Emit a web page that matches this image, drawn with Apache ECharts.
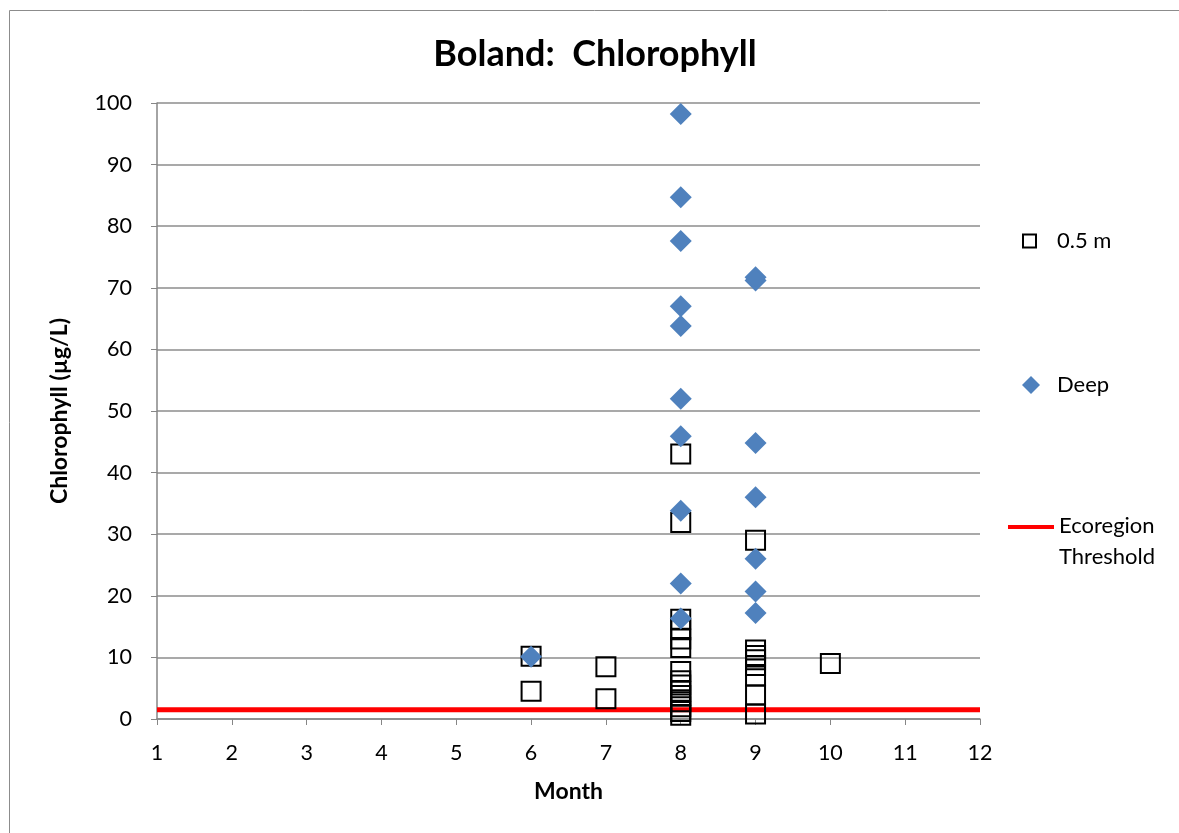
<!DOCTYPE html>
<html><head><meta charset="utf-8">
<script src="https://cdn.jsdelivr.net/npm/echarts@6/dist/echarts.min.js"></script>
<style>html,body{margin:0;padding:0;background:#fff}#c{width:1179px;height:833px}</style>
</head><body><div id="c"></div>
<script>
const titleText = 'Boland:  Chlorophyll';
const xTicks = [1,2,3,4,5,6,7,8,9,10,11,12];
const yTicks = [0,10,20,30,40,50,60,70,80,90,100];
const surfaceMonths = [6,6,7,7,8,8,8,8,8,8,8,8,8,8,8,8,8,8,8,9,9,9,9,9,9,9,9,10];
const surfaceValues = [10.2,4.5,8.5,3.3,43,31.9,16.2,14.5,13.0,11.6,7.7,6.2,5.5,4.5,3.8,2.8,2.0,1.2,0.6,29,11.2,10.3,9.6,8.7,7.0,3.9,0.8,9.0];
const deepMonths = [6,8,8,8,8,8,8,8,8,8,8,9,9,9,9,9,9,9];
const deepValues = [10.1,98.2,84.7,77.6,67.0,63.8,52.0,45.9,33.8,22.0,16.3,71.7,71.2,44.8,36.0,26.0,20.7,17.2];
const thresholdMonths = [1,12];
const thresholdValues = [1.5,1.5];

const F = 'Lato, "Open Sans", sans-serif';
const chart = echarts.init(document.getElementById('c'));
chart.setOption({
  animation:false,
  title:{text:titleText,left:590,textAlign:'center',top:31,textStyle:{fontFamily:F,fontSize:36,fontWeight:'bold',color:'#000'}},
  graphic:[{type:'rect',shape:{x:9.5,y:10.5,width:1300,height:1000},style:{fill:'none',stroke:'#8c8c8c',lineWidth:1}}],
  grid:{left:157,right:199,top:103,bottom:114},
  xAxis:{type:'value',min:1,max:12,interval:1,name:'Month',nameLocation:'middle',nameGap:61,
    nameTextStyle:{fontFamily:F,fontSize:23,fontWeight:'bold',color:'#000'},
    axisLine:{lineStyle:{color:'#868686',width:1.5}},axisTick:{show:true,length:6,lineStyle:{color:'#868686'}},
    axisLabel:{fontFamily:F,fontSize:21.5,color:'#000',margin:23,formatter:v=>xTicks.includes(v)?String(v):''},splitLine:{show:false}},
  yAxis:{type:'value',min:0,max:100,interval:10,name:'Chlorophyll (µg/L)',nameLocation:'middle',nameGap:86,
    nameTextStyle:{fontFamily:F,fontSize:23,fontWeight:'bold',color:'#000'},
    axisLine:{show:true,lineStyle:{color:'#868686',width:1.5}},axisTick:{show:true,length:6,lineStyle:{color:'#868686'}},
    axisLabel:{fontFamily:F,fontSize:21.5,color:'#000',margin:25,formatter:v=>yTicks.includes(v)?String(v):''},
    splitLine:{lineStyle:{color:'#8c8c8c',width:1.5}}},
  legend:[
    {data:[{name:'0.5 m',icon:'rect'}],left:1017,top:225,itemWidth:13,itemHeight:13,
      formatter:n=>'{a|'+n+'}',textStyle:{fontFamily:F,fontSize:22,color:'#000',rich:{a:{fontFamily:F,fontSize:22,color:'#000',padding:[0,0,0,16]}}}},
    {data:[{name:'Deep',icon:'diamond'}],left:1017,top:369,itemWidth:18,itemHeight:18,
      formatter:n=>'{a|'+n+'}',textStyle:{fontFamily:F,fontSize:22,color:'#000',rich:{a:{fontFamily:F,fontSize:22,color:'#000',padding:[0,0,0,12]}}}},
    {data:[{name:'Ecoregion Threshold',icon:'path://M0,0H46V4H0Z M0,33H0.01V33.01H0Z'}],left:1003,top:510,itemWidth:46,itemHeight:35,
      formatter:n=>'{a|'+n.replace(' ','}\n{a|')+'}',
      textStyle:{fontFamily:F,fontSize:22,color:'#000',rich:{a:{fontFamily:F,fontSize:22,color:'#000',lineHeight:31,padding:[0,0,0,0]}}}}
  ],
  series:[
    {name:'Ecoregion Threshold',type:'line',data:thresholdMonths.map((m,i)=>[m,thresholdValues[i]]),showSymbol:false,symbol:'none',
      lineStyle:{color:'#ff0000',width:5},itemStyle:{color:'#ff0000'},z:2},
    {name:'0.5 m',type:'scatter',symbol:'rect',symbolSize:19,data:surfaceMonths.map((m,i)=>[m,surfaceValues[i]]),
      itemStyle:{color:'rgba(0,0,0,0)',borderColor:'#000',borderWidth:2,opacity:1},z:3},
    {name:'Deep',type:'scatter',symbol:'diamond',symbolSize:22,data:deepMonths.map((m,i)=>[m,deepValues[i]]),
      itemStyle:{color:'#4f81bd',opacity:1},z:4}
  ]
});
</script></body></html>
